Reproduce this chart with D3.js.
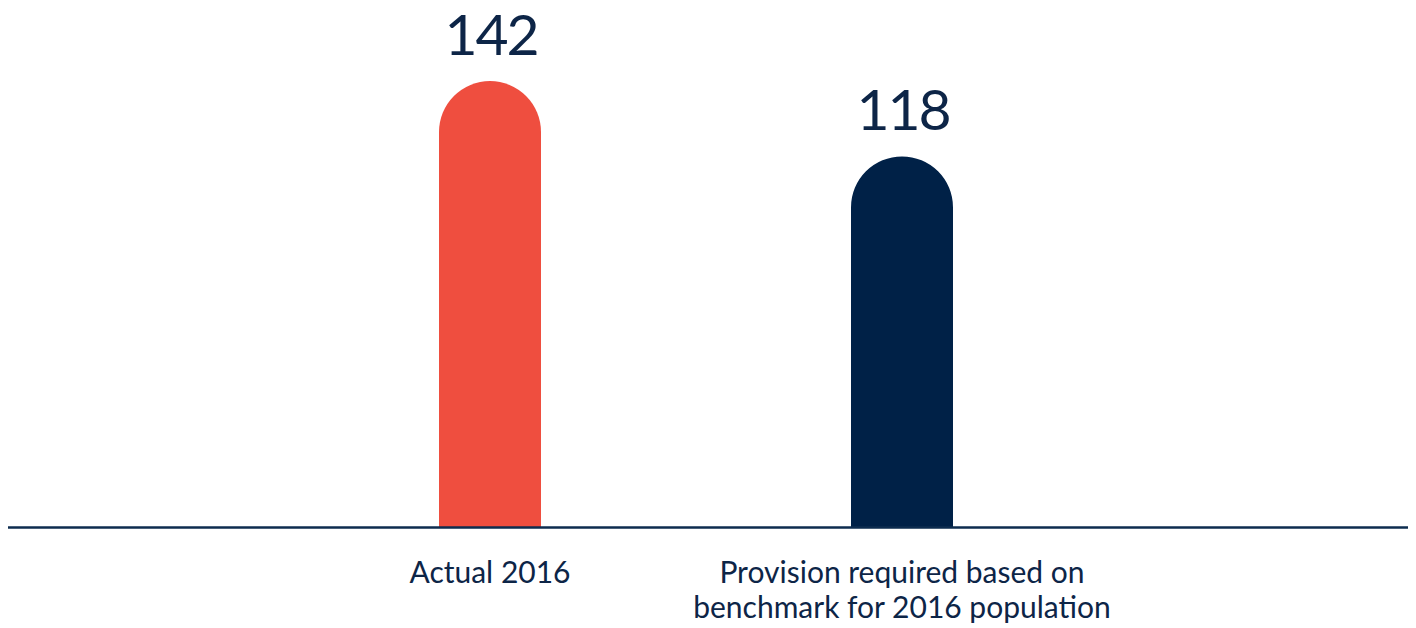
<!DOCTYPE html>
<html>
<meta charset="utf-8">
<head>
<script src="https://d3js.org/d3.v7.min.js"></script>
<title>provision chart</title>
<style>
html, body {
	margin: 0;
	padding: 0;
	background: white;
	font-family: 'Lato', 'Open Sans', sans-serif;
}
svg {
	display: block;
}
</style>
</head>
<body>
<svg></svg>
<script>
var width = 1416;
var height = 628;

// data
var categories = ["Actual 2016", "Provision required based on\nbenchmark for 2016 population"];
var values = [142, 118];
var colors = ["#ef4e3f", "#002147"];

var baseY = 527;
var barWidth = 102;

var svg = d3.select("svg")
	.attr("width", width)
	.attr("height", height);

var x = d3.scalePoint()
	.domain(categories)
	.range([490, 902]);

var y = d3.scaleLinear()
	.domain([0, 142])
	.range([baseY, 81]);

// bars with round tops
function barPath(d) {
	var cx = x(d.cat);
	var r = barWidth / 2;
	var top = y(d.value);
	var x0 = cx - r, x1 = cx + r;
	return "M" + x0 + "," + baseY +
		"L" + x0 + "," + (top + r) +
		"A" + r + "," + r + " 0 0 1 " + x1 + "," + (top + r) +
		"L" + x1 + "," + baseY + "Z";
}

var rows = categories.map(function(c, i) {
	return {cat: c, value: values[i], color: colors[i]};
});

svg.append("g")
	.selectAll("path")
	.data(rows)
	.enter().append("path")
		.attr("d", barPath)
		.style("fill", function(d) { return d.color; });

// value labels
svg.append("g")
	.selectAll("text")
	.data(rows)
	.enter().append("text")
		.attr("x", function(d) { return x(d.cat) + 1; })
		.attr("y", function(d) { return y(d.value) - 26; })
		.attr("text-anchor", "middle")
		.style("font-size", "57px")
		.style("letter-spacing", "-2px")
		.style("fill", "#0d2547")
		.text(function(d) { return d.value; });

// baseline
svg.append("line")
	.attr("x1", 8)
	.attr("x2", 1408)
	.attr("y1", baseY + 0.5)
	.attr("y2", baseY + 0.5)
	.style("stroke", "#0d2c4f")
	.style("stroke-width", 2.5);

// category labels
var lab = svg.append("g")
	.selectAll("text")
	.data(rows)
	.enter().append("text")
		.attr("x", function(d) { return x(d.cat); })
		.attr("y", 583)
		.attr("text-anchor", "middle")
		.style("font-size", "30px")
		.style("fill", "#0d2547");

lab.each(function(d) {
	var t = d3.select(this);
	d.cat.split("\n").forEach(function(line, i) {
		t.append("tspan")
			.attr("x", x(d.cat))
			.attr("dy", i === 0 ? 0 : 35)
			.text(line);
	});
});
</script>
</body>
</html>
